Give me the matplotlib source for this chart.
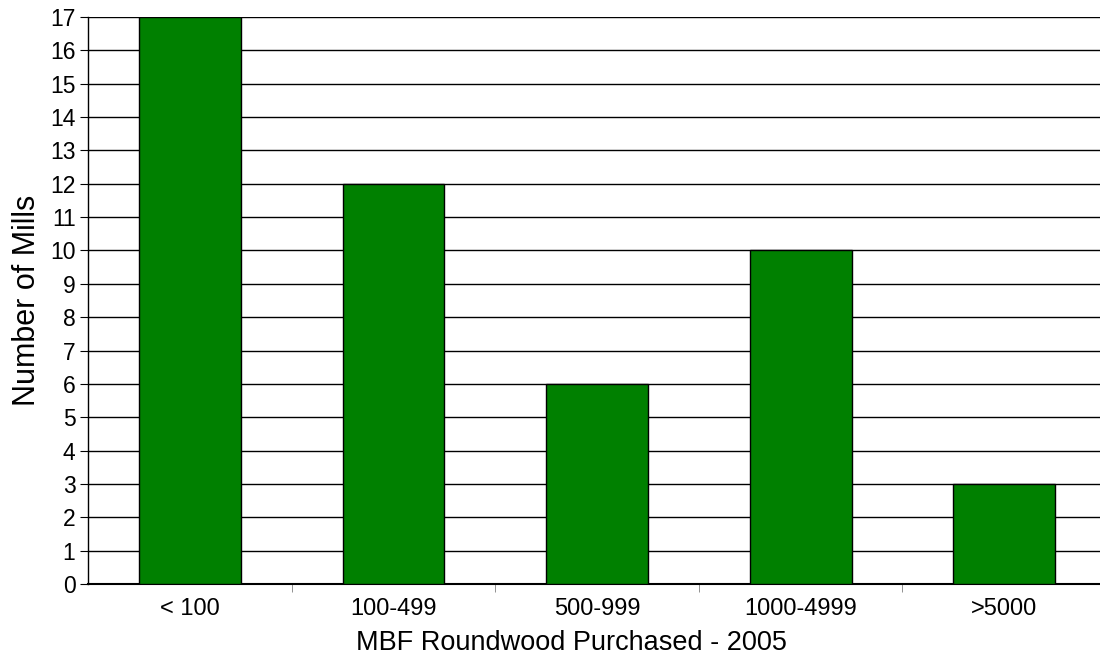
import matplotlib
matplotlib.use("Agg")
import matplotlib.pyplot as plt
import numpy as np

plt.rcParams['font.family'] = ['Liberation Sans', 'DejaVu Sans']

categories = ['< 100', '100-499', '500-999', '1000-4999', '>5000']
mills = [17, 12, 6, 10, 3]

fig = plt.figure(figsize=(11, 6.63), dpi=100)
# plot area runs slightly past the right edge of the image
ax = fig.add_axes([88/1100, 1 - 584/663, 1018/1100, (584-17)/663])

x = np.arange(len(categories))
ax.bar(x, mills, width=0.5, color='#008000', edgecolor='black', linewidth=1, zorder=3)

ax.set_xlim(-0.5, len(categories) - 0.5)
ax.set_ylim(0, 17)
ax.set_yticks(range(0, 18))
ax.yaxis.grid(True, color='black', linewidth=1, zorder=0)
ax.set_axisbelow(True)

ax.set_xticks(x)
ax.set_xticklabels(categories)
ax.tick_params(axis='x', length=0, labelsize=17, pad=10)
ax.set_xticks(np.arange(0.5, len(categories) - 0.5, 1), minor=True)
ax.tick_params(axis='x', which='minor', length=6, color='gray', direction='out')
ax.tick_params(axis='y', length=6, labelsize=16.5, pad=3)

for s in ['top', 'right']:
    ax.spines[s].set_visible(False)
ax.spines['left'].set_linewidth(1)
ax.spines['bottom'].set_linewidth(1.5)

ax.set_ylabel('Number of Mills', fontsize=22, labelpad=6)
ax.set_xlabel('MBF Roundwood Purchased - 2005', fontsize=19.5, labelpad=7)
ax.xaxis.label.set_x(0.475)

fig.savefig('out.png', dpi=100)
